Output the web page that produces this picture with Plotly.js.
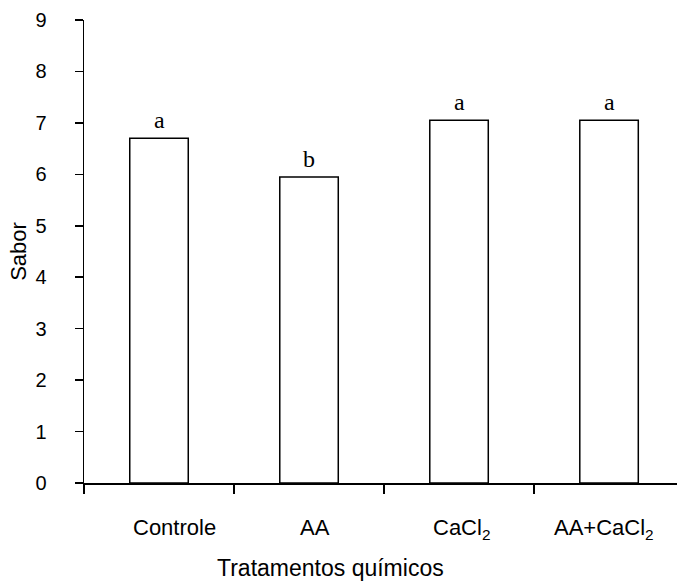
<!DOCTYPE html>
<html>
<head>
<meta charset="utf-8">
<script src="https://cdn.plot.ly/plotly-3.0.1.min.js"></script>
<style>html,body{margin:0;padding:0;background:#fff;}</style>
</head>
<body>
<div id="chart" style="width:677px;height:583px;"></div>
<script>
const categories = ["Controle", "AA", "CaCl<sub>2</sub>", "AA+CaCl<sub>2</sub>"];
const sabor = [6.70, 5.95, 7.05, 7.05];
const letters = ["a", "b", "a", "a"];
const yTicks = [0, 1, 2, 3, 4, 5, 6, 7, 8, 9];
const xTitle = "Tratamentos químicos";
const yTitle = "Sabor";

const sans = "Liberation Sans, Arial, sans-serif";
const serif = "Liberation Serif, Times New Roman, serif";
const labelShift = [15, 6, 2, -5];

const trace = {
  type: "bar",
  x: categories,
  y: sabor,
  width: 0.39,
  marker: {color: "#ffffff", line: {color: "#000000", width: 1.5}},
  hoverinfo: "none"
};

const letterAnn = categories.map((c, i) => ({
  x: c, y: sabor[i], xref: "x", yref: "y",
  text: letters[i], showarrow: false, yanchor: "bottom", yshift: 3,
  font: {family: serif, size: 24, color: "#000"}
}));

const tickAnn = categories.map((c, i) => ({
  x: c, y: 0, xref: "x", yref: "paper",
  text: c, showarrow: false, yanchor: "top", yshift: -30, xshift: labelShift[i],
  font: {family: sans, size: 22, color: "#000"}
}));

const titleAnn = [{
  x: 0.415, y: 0, xref: "paper", yref: "paper",
  text: xTitle, showarrow: false, xanchor: "center", yanchor: "top", yshift: -70,
  font: {family: sans, size: 23, color: "#000"}
}];

const layout = {
  width: 677, height: 583, autosize: false,
  margin: {l: 84, r: 0, t: 20, b: 100, pad: 0},
  paper_bgcolor: "#fff", plot_bgcolor: "#fff",
  showlegend: false,
  xaxis: {
    type: "category", range: [-0.5, 3.453],
    tickson: "boundaries", ticks: "outside", ticklen: 9, tickwidth: 1.5, tickcolor: "#000",
    showline: true, linecolor: "#000", linewidth: 1.5, showgrid: false, zeroline: false,
    showticklabels: false
  },
  yaxis: {
    range: [0, 9], tickvals: yTicks, ticktext: yTicks.map(String),
    ticks: "outside", ticklen: 8, tickwidth: 1.5, tickcolor: "#000",
    showline: true, linecolor: "#000", linewidth: 1.5, showgrid: false, zeroline: false,
    tickfont: {family: sans, size: 20, color: "#000"},
    ticklabelstandoff: 24,
    title: {text: yTitle, font: {family: sans, size: 22, color: "#000"}, standoff: 2}
  },
  annotations: letterAnn.concat(tickAnn, titleAnn)
};

Plotly.newPlot("chart", [trace], layout, {staticPlot: true, displayModeBar: false});
</script>
</body>
</html>
